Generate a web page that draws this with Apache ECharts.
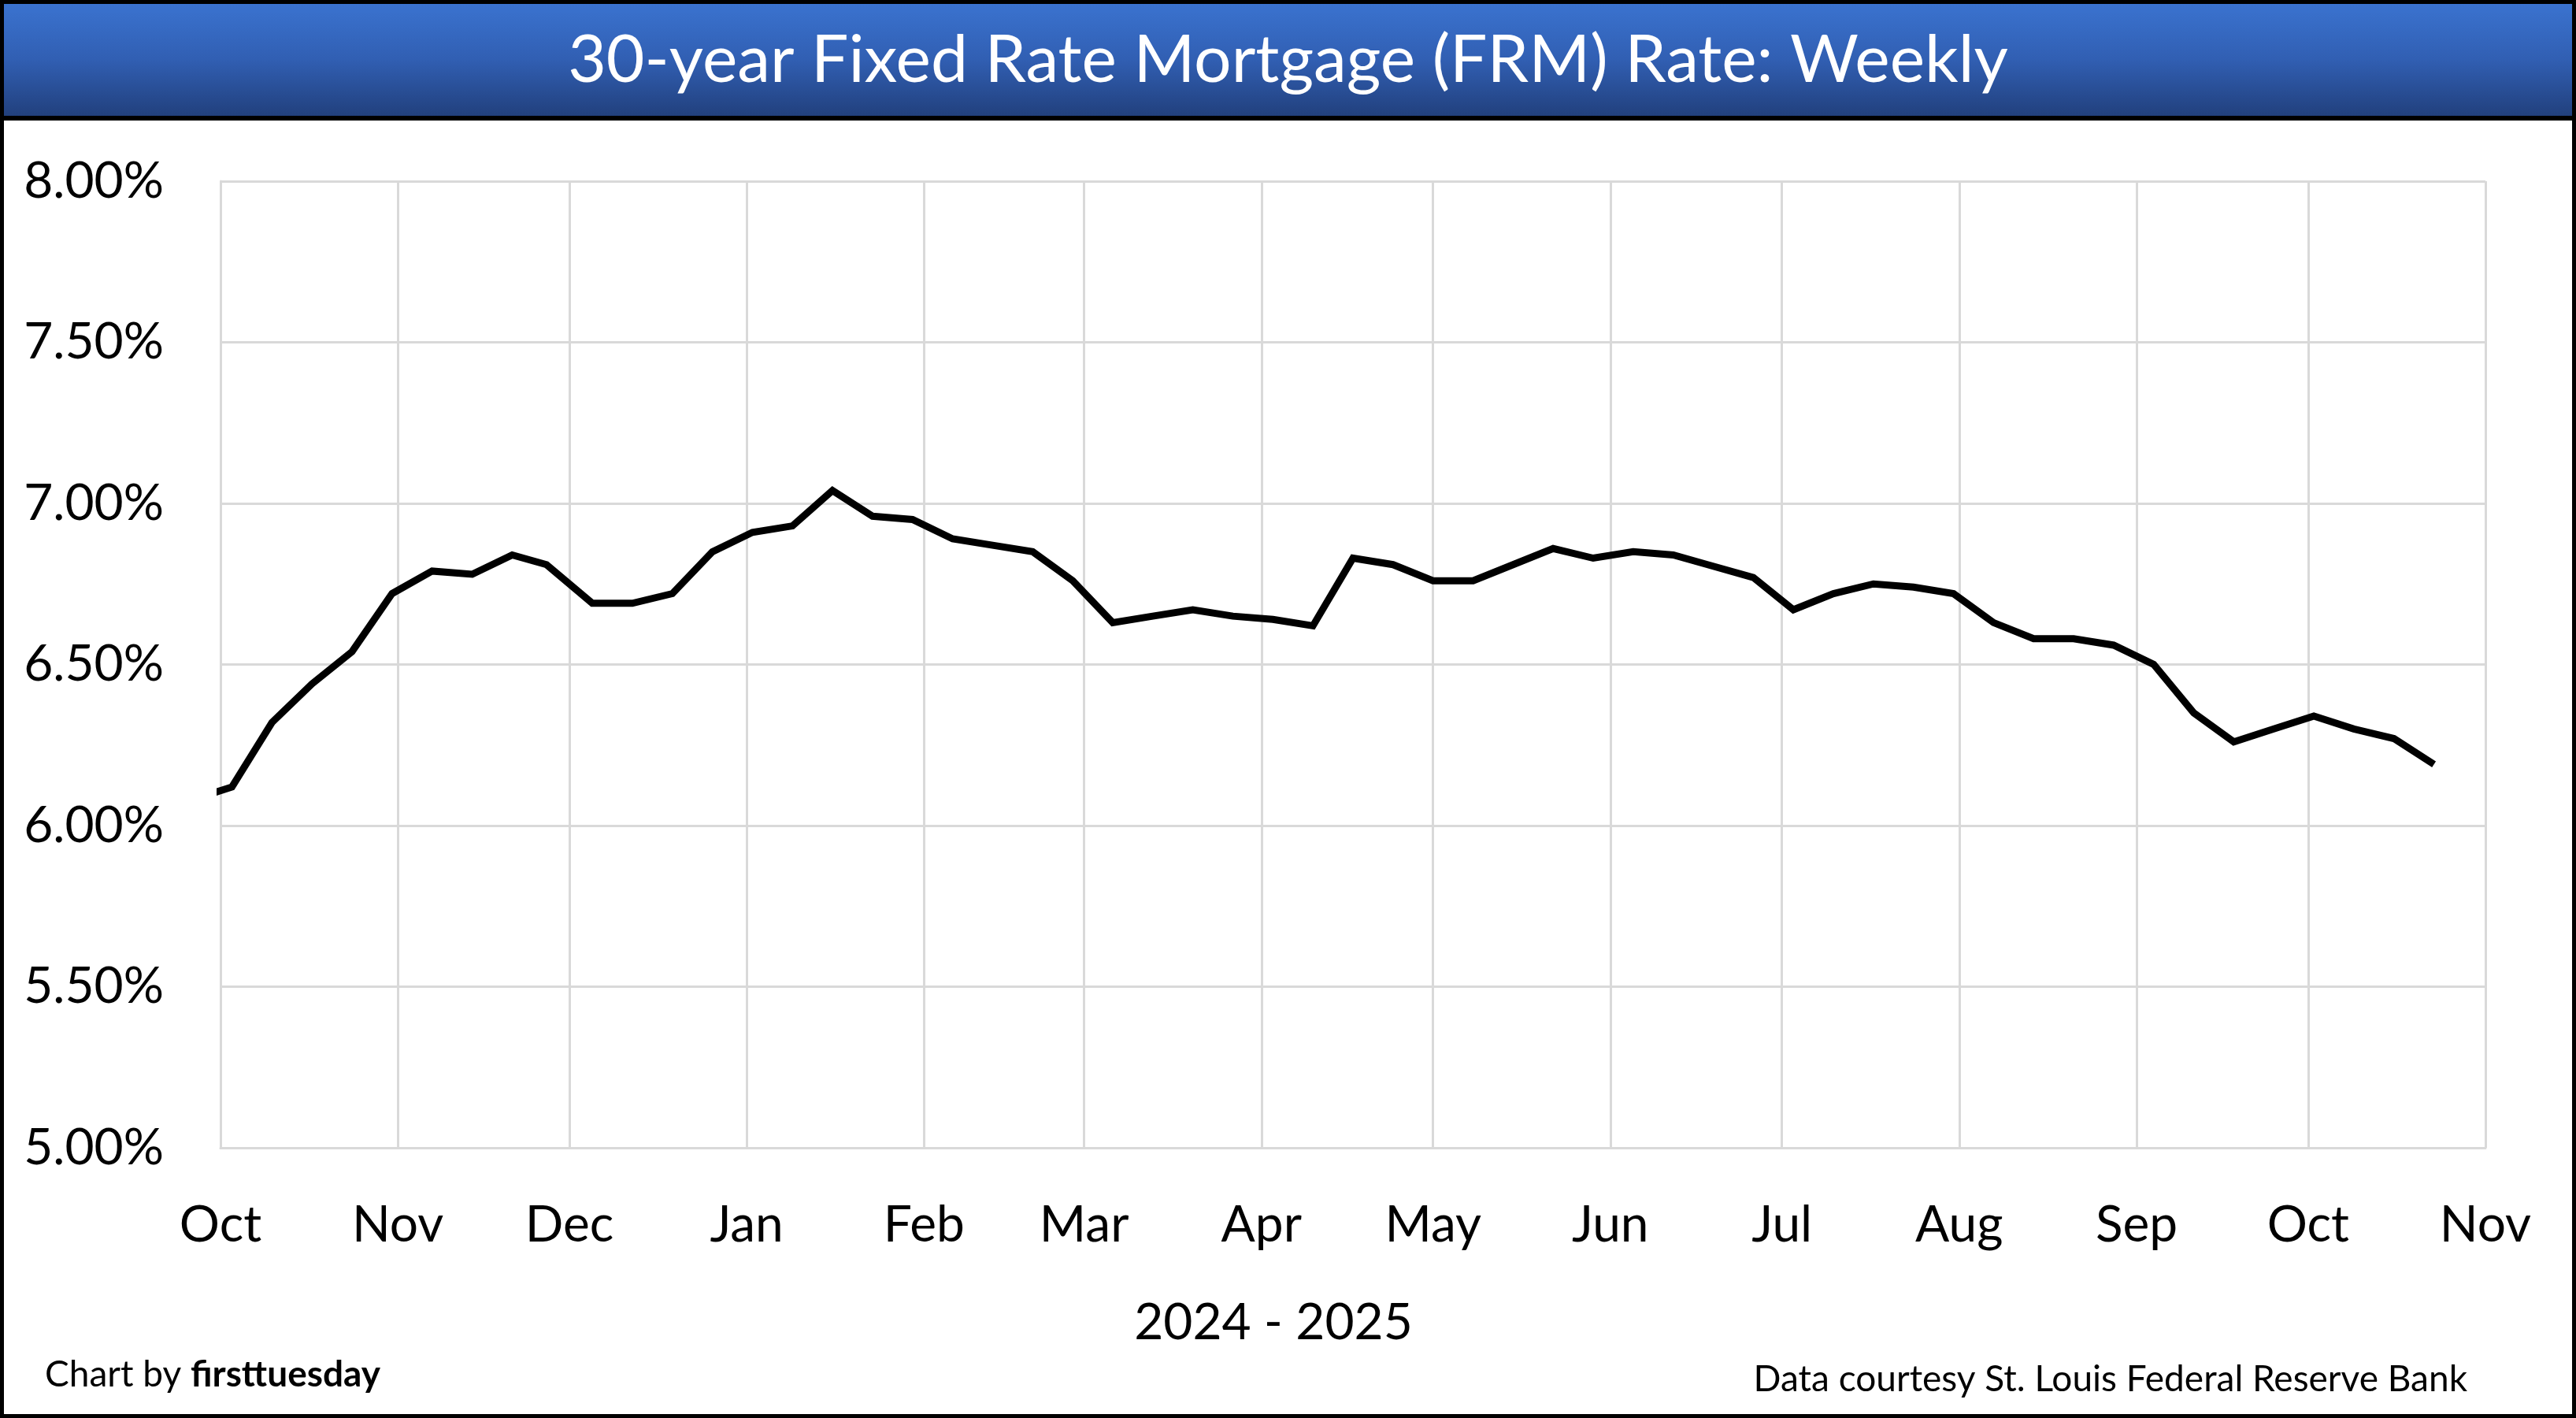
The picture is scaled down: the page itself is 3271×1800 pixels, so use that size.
<!DOCTYPE html>
<html>
<head>
<meta charset="utf-8">
<script src="https://cdn.jsdelivr.net/npm/echarts@6/dist/echarts.min.js"></script>
<style>
html,body{margin:0;padding:0;background:#fff;}
#c{width:3271px;height:1800px;}
</style>
</head>
<body>
<div id="c"></div>
<script>
// Weekly 30-year FRM rate (percent)
const weekDates = [
  '2024-09-26','2024-10-03','2024-10-10','2024-10-17','2024-10-24','2024-10-31',
  '2024-11-07','2024-11-14','2024-11-21','2024-11-27','2024-12-05','2024-12-12',
  '2024-12-19','2024-12-26','2025-01-02','2025-01-09','2025-01-16','2025-01-23',
  '2025-01-30','2025-02-06','2025-02-13','2025-02-20','2025-02-27','2025-03-06',
  '2025-03-13','2025-03-20','2025-03-27','2025-04-03','2025-04-10','2025-04-17',
  '2025-04-24','2025-05-01','2025-05-08','2025-05-15','2025-05-22','2025-05-29',
  '2025-06-05','2025-06-12','2025-06-18','2025-06-26','2025-07-03','2025-07-10',
  '2025-07-17','2025-07-24','2025-07-31','2025-08-07','2025-08-14','2025-08-21',
  '2025-08-28','2025-09-04','2025-09-11','2025-09-18','2025-09-25','2025-10-02',
  '2025-10-09','2025-10-16','2025-10-23'
];
const rateValues = [
  6.08, 6.12, 6.32, 6.44, 6.54, 6.72,
  6.79, 6.78, 6.84, 6.81, 6.69, 6.69,
  6.72, 6.85, 6.91, 6.93, 7.04, 6.96,
  6.95, 6.89, 6.87, 6.85, 6.76, 6.63,
  6.65, 6.67, 6.65, 6.64, 6.62, 6.83,
  6.81, 6.76, 6.76, 6.81, 6.86, 6.83,
  6.85, 6.84, 6.81, 6.77, 6.67, 6.72,
  6.75, 6.74, 6.72, 6.63, 6.58, 6.58,
  6.56, 6.50, 6.35, 6.26, 6.30, 6.34,
  6.30, 6.27, 6.19
];
// x-axis month ticks and their labels
const tickDates = [
  '2024-10-01','2024-11-01','2024-12-01','2025-01-01','2025-02-01','2025-03-01',
  '2025-04-01','2025-05-01','2025-06-01','2025-07-01','2025-08-01','2025-09-01',
  '2025-10-01','2025-11-01'
];
const tickLabels = ['Oct','Nov','Dec','Jan','Feb','Mar','Apr','May','Jun','Jul','Aug','Sep','Oct','Nov'];
// y-axis range
const yMin = 5, yMax = 8, yStep = 0.5;

const FONT = 'Lato';
const W = 3271, H = 1800;
const chart = echarts.init(document.getElementById('c'), null, {renderer: 'canvas', width: W, height: H});

const toTs = d => echarts.time.parse(d).getTime();
const tickTs = tickDates.map(toTs);
const tickMap = {};
tickTs.forEach((t, i) => { tickMap[t] = tickLabels[i]; });

const gridColor = '#d9d9d9';

const option = {
  backgroundColor: '#ffffff',
  animation: false,
  title: {
    text: '30-year Fixed Rate Mortgage (FRM) Rate: Weekly',
    left: 'center',
    top: 30,
    z: 20,
    textStyle: {color: '#ffffff', fontFamily: FONT, fontWeight: 'normal', fontSize: 84}
  },
  grid: {left: 280, right: 115, top: 230, bottom: 343},
  xAxis: {
    type: 'value',
    min: tickTs[0],
    max: tickTs[tickTs.length - 1],
    axisLine: {show: true, onZero: false, lineStyle: {color: gridColor, width: 3}},
    axisTick: {show: false, customValues: tickTs},
    axisLabel: {
      customValues: tickTs,
      formatter: v => tickMap[v] || '',
      color: '#000', fontFamily: FONT, fontSize: 64, margin: 66
    },
    splitLine: {show: true, lineStyle: {color: gridColor, width: 3}}
  },
  yAxis: {
    type: 'value',
    min: yMin, max: yMax, interval: yStep,
    axisLine: {show: true, onZero: false, lineStyle: {color: gridColor, width: 3}},
    axisTick: {show: false},
    axisLabel: {
      formatter: v => v.toFixed(2) + '%',
      color: '#000', fontFamily: FONT, fontSize: 64, margin: 72
    },
    splitLine: {show: true, lineStyle: {color: gridColor, width: 3}}
  },
  series: [{
    type: 'line',
    data: weekDates.map((d, i) => [toTs(d), rateValues[i]]),
    showSymbol: false,
    clip: true,
    lineStyle: {color: '#000000', width: 9, join: 'miter'},
    z: 5
  }],
  graphic: [
    {
      type: 'rect', z: 1,
      shape: {x: 0, y: 0, width: W, height: 150},
      style: {fill: new echarts.graphic.LinearGradient(0, 0, 0, 1, [
        {offset: 0, color: '#3b74d1'},
        {offset: 0.5, color: '#315fb3'},
        {offset: 1, color: '#213f7b'}
      ])}
    },
    {
      type: 'rect', z: 2,
      shape: {x: 0, y: 147, width: W, height: 6},
      style: {fill: '#000'}
    },
    {
      type: 'rect', z: 30,
      shape: {x: 2.5, y: 2.5, width: W - 5, height: H - 5},
      style: {fill: 'none', stroke: '#000', lineWidth: 5}
    },
    {
      type: 'text', z: 10,
      x: 1617, y: 1679,
      style: {
        text: '2024 - 2025',
        fontFamily: FONT, fontSize: 64, fill: '#000',
        align: 'center', verticalAlign: 'middle'
      }
    },
    {
      type: 'text', z: 10,
      x: 57, y: 1745,
      style: {
        text: '{a|Chart by }{b|firsttuesday}',
        verticalAlign: 'middle',
        rich: {
          a: {fontFamily: FONT, fontSize: 46, fill: '#000'},
          b: {fontFamily: FONT, fontSize: 46, fontWeight: 'bold', fill: '#000'}
        }
      }
    },
    {
      type: 'text', z: 10,
      x: 3133, y: 1751,
      style: {
        text: 'Data courtesy St. Louis Federal Reserve Bank',
        fontFamily: FONT, fontSize: 46, fill: '#000',
        align: 'right', verticalAlign: 'middle'
      }
    }
  ]
};
chart.setOption(option);
</script>
</body>
</html>
